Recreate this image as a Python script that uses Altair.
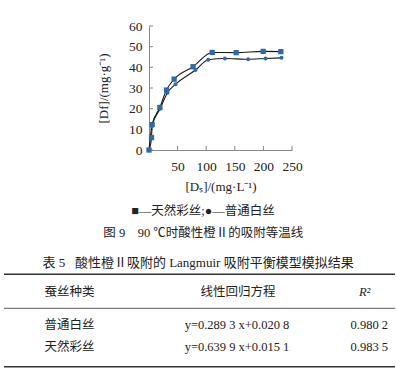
import altair as alt
import pandas as pd

# ---- data ----
sq_x = [0, 4.4, 5.5, 19, 30.6, 44, 77, 110.5, 152.4, 199.6, 230.5]
sq_y = [0, 6.0, 12.3, 20.6, 29, 34.3, 40.3, 47.2, 47.1, 47.7, 47.6]
ci_x = [0, 5, 19.5, 32.3, 46.3, 81.3, 103.5, 132.5, 173.4, 203.7, 231.6]
ci_y = [0, 11.5, 20, 27.7, 31.8, 38.7, 43.7, 44.3, 43.9, 44.3, 44.6]
x_ticks = [50, 100, 150, 200, 250]
y_ticks = [0, 10, 20, 30, 40, 50, 60]

NB = "\u00a0"
table_title = "表 5" + NB * 3 + "酸性橙Ⅱ吸附的 Langmuir 吸附平衡模型模拟结果"
headers = ["蚕丝种类", "线性回归方程", "R²"]
silk_types = ["普通白丝", "天然彩丝"]
equations = ["y=0.289 3 x+0.020 8", "y=0.639 9 x+0.015 1"]
r2_values = ["0.980 2", "0.983 5"]
legend_text = "■—天然彩丝;●—普通白丝"
caption_text = "图 9" + NB * 4 + "90 ℃时酸性橙Ⅱ的吸附等温线"

FONT = "Liberation Serif, Noto Sans CJK SC"
TXT = "#222222"
BLUE = "#2e6aa6"

sq = pd.DataFrame({"x": sq_x, "y": sq_y})
ci = pd.DataFrame({"x": ci_x, "y": ci_y})

xs = alt.Scale(domain=[0, 250], nice=False)
ys = alt.Scale(domain=[0, 60], nice=False)

xax = alt.Axis(values=x_ticks, title="[Dₛ]/(mg·L⁻¹)", labelPadding=9,
               titlePadding=8, labelOverlap=False, labelFlush=False,
               labelBound=False)
yax = alt.Axis(values=y_ticks, title="[Df]/(mg·g⁻¹)", labelPadding=7,
               titlePadding=18, labelOverlap=False, labelFlush=False,
               labelBound=False)

base_sq = alt.Chart(sq).encode(x=alt.X("x:Q", scale=xs, axis=xax),
                               y=alt.Y("y:Q", scale=ys, axis=yax))
base_ci = alt.Chart(ci).encode(x=alt.X("x:Q", scale=xs, axis=xax),
                               y=alt.Y("y:Q", scale=ys, axis=yax))

line_sq = base_sq.mark_line(color="#1a1a1a", strokeWidth=1.1, interpolate="monotone")
line_ci = base_ci.mark_line(color="#1a1a1a", strokeWidth=1.1, interpolate="monotone")
pts_sq = base_sq.mark_point(shape="square", filled=True, size=28, color=BLUE, opacity=1)
pts_ci = base_ci.mark_point(shape="circle", filled=True, size=16, color=BLUE, opacity=1)

# inside ticks
xt = alt.Chart(pd.DataFrame({"v": x_ticks})).mark_rule(color="#888", strokeWidth=1).encode(
    x=alt.X("v:Q", scale=xs, axis=xax), y=alt.value(124), y2=alt.value(120))
yt = alt.Chart(pd.DataFrame({"v": y_ticks})).mark_rule(color="#888", strokeWidth=1).encode(
    y=alt.Y("v:Q", scale=ys, axis=yax), x=alt.value(0), x2=alt.value(4))


def txt(s, x, y, align="center", size=12.5, style="normal"):
    return alt.Chart(pd.DataFrame({"t": [s]})).mark_text(
        align=align, baseline="middle", font=FONT, fontSize=size,
        fontStyle=style, fontWeight="normal", color=TXT
    ).encode(x=alt.value(x), y=alt.value(y), text="t:N")


def rule(y, w):
    return alt.Chart(pd.DataFrame({"t": [0]})).mark_rule(color="#333", strokeWidth=w).encode(
        x=alt.value(-145), x2=alt.value(246), y=alt.value(y))


layers = [xt, yt, line_sq, line_ci, pts_sq, pts_ci,
          txt(legend_text, 54, 184.7),
          txt(caption_text, 54.3, 207),
          txt(table_title, 49, 236.7, size=13),
          rule(248.3, 1.6),
          txt(headers[0], -104.4, 265.7, align="left"),
          txt(headers[1], 89, 265.7),
          txt(headers[2], 215.6, 265.7, style="italic"),
          rule(282.3, 0.8),
          txt(silk_types[0], -104.4, 299, align="left"),
          txt(equations[0], 88, 299),
          txt(r2_values[0], 239, 299, align="right"),
          txt(silk_types[1], -104.4, 320.7, align="left"),
          txt(equations[1], 88, 320.7),
          txt(r2_values[1], 239, 320.7, align="right"),
          rule(340.7, 1.6)]

chart = alt.layer(*layers).properties(
    width=143, height=124,
    padding={"left": 3, "top": 19, "right": 0, "bottom": 0}
).configure_view(stroke=None).configure_axis(
    grid=False, ticks=False, domainColor="#888", domainWidth=1,
    labelFont=FONT, labelFontSize=13.5, labelColor=TXT,
    titleFont=FONT, titleFontSize=13, titleColor=TXT, titleFontWeight="normal"
)

chart.save("out.html", embed_options={"renderer": "svg", "actions": False})
